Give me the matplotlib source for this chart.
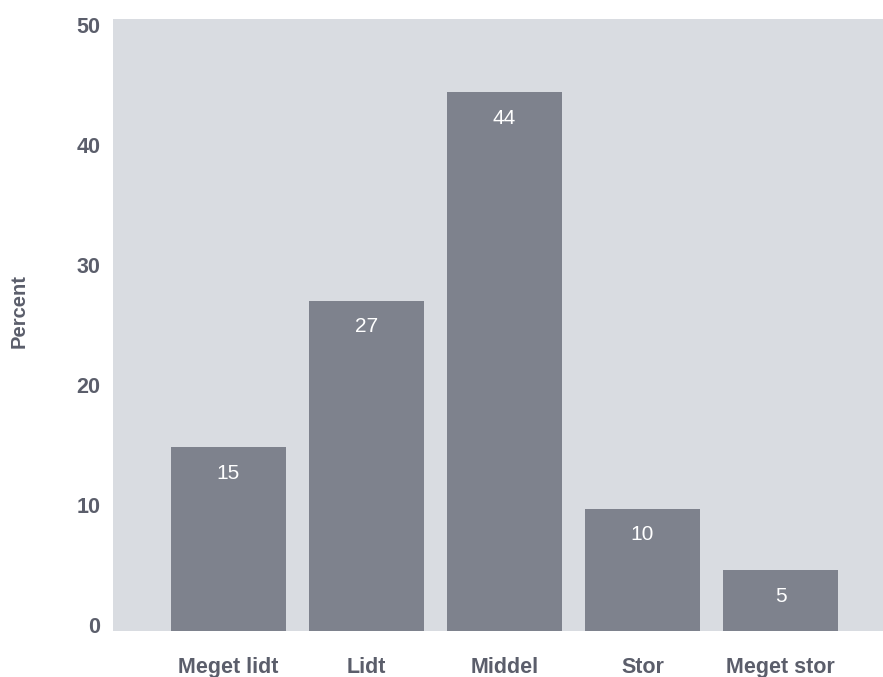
import numpy as np
import matplotlib
matplotlib.use("Agg")
import matplotlib.pyplot as plt

categories = ["Meget lidt", "Lidt", "Middel", "Stor", "Meget stor"]
percent = [15, 27, 44, 10, 5]
ytick_values = [0, 10, 20, 30, 40, 50]

panel_color = "#d9dce1"
bar_color = "#7e828d"
text_color = "#5b5e6b"

plt.rcParams["font.family"] = ["Liberation Sans", "DejaVu Sans"]

fig = plt.figure(figsize=(8.83, 6.77), dpi=100)
ax = fig.add_axes([113 / 883, 46 / 677, 770 / 883, 612 / 677])
ax.set_facecolor(panel_color)

x = np.arange(len(categories))
bars = ax.bar(x, percent, width=0.833, color=bar_color, zorder=2)

for rect, v in zip(bars, percent):
    ax.annotate(f"{v:.0f}", (rect.get_x() + rect.get_width() / 2, v),
                xytext=(0, -19), textcoords="offset points",
                ha="center", va="center", color="white", fontsize=15)

ax.set_xlim(-0.837, len(categories) - 1 + 0.743)
ax.set_ylim(0, 50)

ax.set_xticks(x, categories)
# value labels sit slightly inside the panel's top and bottom edges
ax.set_yticks(np.linspace(0.5, 49.5, len(ytick_values)), [str(v) for v in ytick_values])
ax.tick_params(axis="both", length=0, labelcolor=text_color, labelsize=15.5)
ax.tick_params(axis="x", pad=19)
ax.tick_params(axis="y", pad=9)
for lbl in ax.get_xticklabels() + ax.get_yticklabels():
    lbl.set_fontweight("bold")

fig.text(19 / 883, 1 - 311 / 677, "Percent", rotation=90, ha="center", va="center",
         color=text_color, fontsize=14.5, fontweight="bold")

for s in ax.spines.values():
    s.set_visible(False)

fig.savefig("out.png", dpi=100)
